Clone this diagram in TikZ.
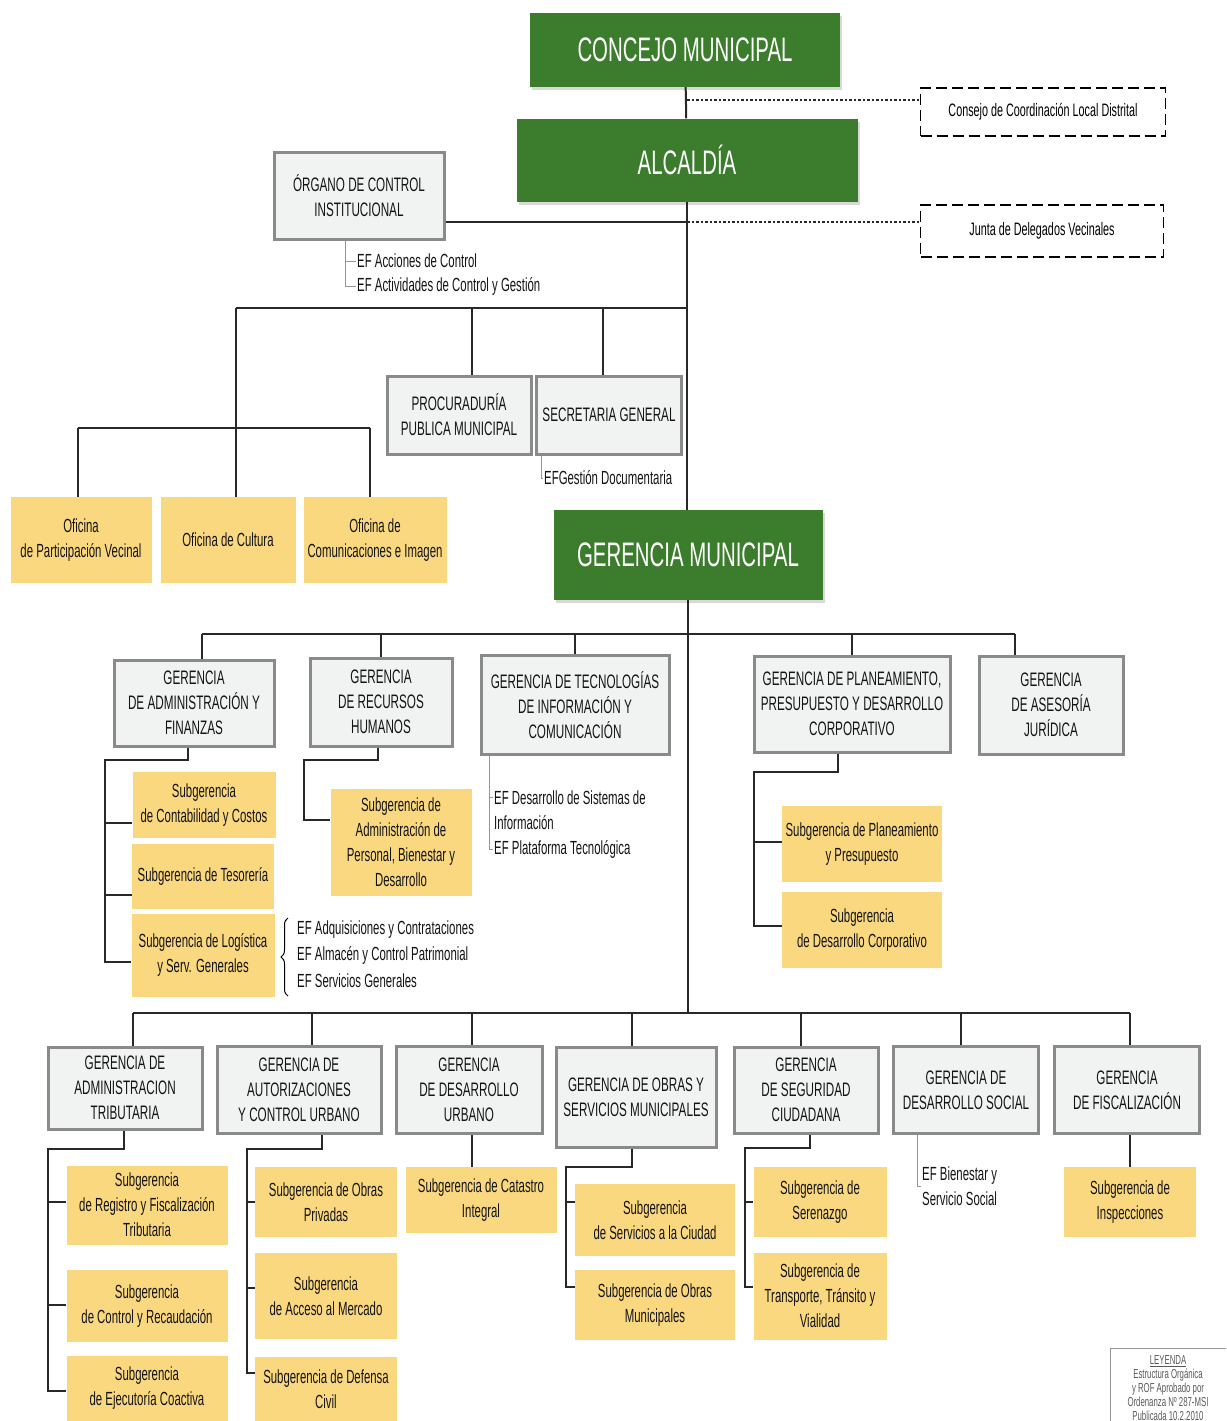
\documentclass[tikz,border=0pt]{standalone}
\usepackage{fontspec}
\setmainfont[FakeStretch=0.6]{Liberation Sans}
\usepackage{tikz}
\usetikzlibrary{positioning}
\usetikzlibrary{shadows}
\usetikzlibrary{decorations.pathreplacing}

\definecolor{verde}{RGB}{60,125,45}
\definecolor{grisfondo}{RGB}{241,242,242}
\definecolor{grisborde}{RGB}{138,138,138}
\definecolor{amarillo}{RGB}{250,216,128}
\definecolor{linea}{RGB}{40,40,40}
\definecolor{lineaef}{RGB}{150,150,150}

\tikzset{
  sz/.style 2 args={minimum width=#1pt,minimum height=#2pt},
  topbox/.style={fill=verde,text=white,inner sep=2pt,align=center,
    font=\fontsize{34}{38}\selectfont,
    drop shadow={opacity=0.3,shadow xshift=2pt,shadow yshift=-3pt}},
  gerbox/.style={fill=grisfondo,draw=grisborde,line width=3pt,inner sep=2pt,align=center,
    text=black!92,font=\fontsize{19.5}{25}\selectfont,
    drop shadow={opacity=0.2,shadow xshift=1.5pt,shadow yshift=-1.5pt}},
  subbox/.style={fill=amarillo,inner sep=2pt,align=center,text=black!92,
    font=\fontsize{19}{25}\selectfont},
  extbox/.style={draw,line width=1.8pt,dash pattern=on 11pt off 5pt,inner sep=2pt,
    font=\fontsize{18}{24}\selectfont},
  eftext/.style={anchor=west,inner sep=1pt,align=left,text=black!92,
    font=\fontsize{19}{25}\selectfont},
  link/.style={draw=linea,line width=2pt},
  eflink/.style={draw=lineaef,line width=1pt},
  dotlink/.style={draw=linea,line width=2.2pt,dash pattern=on 2.5pt off 2pt}
}

\begin{document}
\begin{tikzpicture}[x=1pt,y=-1pt]
  \useasboundingbox (0,0) rectangle (1226,1421);

  % alta direccion
  \node [topbox,sz={310}{74}]  (concejo)  at (685,50)  {CONCEJO MUNICIPAL};
  \node [topbox,sz={341}{83}]  (alcaldia) at (687,160) {ALCALDÍA};
  \node [extbox,sz={245}{48}]  (consejo)  at (1043,112) {Consejo de Coordinación Local Distrital};
  \node [extbox,sz={243}{52}]  (junta)    at (1042,231) {Junta de Delegados Vecinales};
  \node [gerbox,sz={170}{87}]  (oci)      at (359,196) {ÓRGANO DE CONTROL\\INSTITUCIONAL};
  \node [eftext] (efacc) at (356,261) {EF Acciones de Control};
  \node [eftext] (efact) at (356,286) {EF Actividades de Control y Gestión};
  \node [gerbox,sz={144}{78}]  (procu)    at (459,415) {PROCURADURÍA\\PUBLICA MUNICIPAL};
  \node [gerbox,sz={145}{78}]  (secre)    at (609,415) {SECRETARIA GENERAL};
  \node [eftext] (efgest) at (543,478) {EFGestión Documentaria};
  \node [subbox,sz={141}{86}]  (partic)   at (81,540)  {Oficina\\de Participación Vecinal};
  \node [subbox,sz={135}{86}]  (cultura)  at (228,540) {Oficina de Cultura};
  \node [subbox,sz={143}{86}]  (comunic)  at (375,540) {Oficina de\\Comunicaciones e Imagen};
  \node [topbox,sz={269}{90}]  (germun)   at (688,555) {GERENCIA MUNICIPAL};

  \draw [link] (concejo) -- (alcaldia);
  \draw [link] (alcaldia.south) -- (alcaldia.south |- germun.north);
  \draw [dotlink] (687,100) -- (consejo.west |- 0,100);
  \draw [dotlink] (687,222) -- (junta.west |- 0,222);
  \draw [link] (oci.east |- 0,222) -- (687,222);
  \draw [eflink] (oci.south -| 345,0) |- (efact.west);
  \draw [eflink] (345,261) -- (efacc.west);
  \draw [link] (236,308) -- (687,308);
  \draw [link] (472,308) -- (procu.north -| 472,0);
  \draw [link] (603,308) -- (secre.north -| 603,0);
  \draw [eflink] (secre.south -| 541,0) |- (efgest.west);
  \draw [link] (236,308) -- (cultura.north -| 236,0);
  \draw [link] (78,428) -- (370,428);
  \draw [link] (78,428) -- (partic.north -| 78,0);
  \draw [link] (370,428) -- (comunic.north -| 370,0);

  % gerencias de apoyo y asesoria
  \node [gerbox,sz={160}{86}] (gaf)  at (194,703)  {GERENCIA\\DE ADMINISTRACIÓN  Y\\FINANZAS};
  \node [gerbox,sz={142}{88}] (grh)  at (381,702)  {GERENCIA\\DE RECURSOS\\HUMANOS};
  \node [gerbox,sz={188}{99}] (gtic) at (575,705)  {GERENCIA DE TECNOLOGÍAS\\DE INFORMACIÓN Y\\COMUNICACIÓN};
  \node [gerbox,sz={196}{96}] (gpp)  at (852,704)  {GERENCIA DE PLANEAMIENTO,\\PRESUPUESTO Y DESARROLLO\\CORPORATIVO};
  \node [gerbox,sz={144}{98}] (gaj)  at (1051,705) {GERENCIA\\DE  ASESORÍA\\JURÍDICA};

  \node [subbox,sz={143}{66}]  (conta) at (204,805) {Subgerencia\\de Contabilidad y Costos};
  \node [subbox,sz={142}{65}]  (teso)  at (203,876) {Subgerencia  de Tesorería};
  \node [subbox,sz={143}{83}]  (logis) at (203,955) {Subgerencia de Logística\\y Serv. Generales};
  \node [eftext] (efadq)  at (296,930) {EF Adquisiciones y Contrataciones};
  \node [eftext] (efalm)  at (296,955) {EF Almacén y Control Patrimonial};
  \node [eftext] (efserv) at (296,981) {EF Servicios Generales};
  \node [subbox,sz={141}{107}] (adper) at (401,842) {Subgerencia de\\Administración de\\Personal, Bienestar y\\Desarrollo};
  \node [eftext] (efsis)  at (493,810) {EF Desarrollo de Sistemas de\\Información};
  \node [eftext] (efplat) at (493,849) {EF Plataforma Tecnológica};
  \node [subbox,sz={160}{76}]  (sgpp)  at (862,844) {Subgerencia de Planeamiento\\y  Presupuesto};
  \node [subbox,sz={160}{76}]  (sgdc)  at (862,930) {Subgerencia\\de Desarrollo Corporativo};

  \draw [link] (germun.south) -- (germun.south |- 0,1013);
  \draw [link] (202,634) -- (1015,634);
  \draw [link] (202,634) -- (gaf.north -| 202,0);
  \draw [link] (381,634) -- (grh.north -| 381,0);
  \draw [link] (575,634) -- (gtic.north -| 575,0);
  \draw [link] (852,634) -- (gpp.north -| 852,0);
  \draw [link] (1015,634) -- (gaj.north -| 1015,0);

  \draw [link] (gaf.south -| 188,0) |- (105,760) -- (105,962) -- (logis.west |- 0,962);
  \draw [link] (105,823) -- (conta.west |- 0,823);
  \draw [link] (105,895) -- (teso.west |- 0,895);
  \draw [decorate,decoration={brace,amplitude=7pt},line width=1pt] (288,996) -- (288,918);
  \draw [link] (grh.south -| 378,0) |- (304,760) |- (adper.west |- 0,820);
  \draw [eflink] (gtic.south -| 489,0) |- (efplat.west);
  \draw [eflink] (489,797) -- (efsis.west |- 0,797);
  \draw [link] (gpp.south -| 838,0) |- (754,772) -- (754,926) -- (sgdc.west |- 0,926);
  \draw [link] (754,842) -- (sgpp.west |- 0,842);

  % gerencias de linea
  \node [gerbox,sz={154}{82}]  (gat)  at (125,1088) {GERENCIA DE\\ADMINISTRACION\\TRIBUTARIA};
  \node [gerbox,sz={164}{87}]  (gauc) at (299,1090) {GERENCIA DE\\AUTORIZACIONES\\Y CONTROL URBANO};
  \node [gerbox,sz={146}{87}]  (gdu)  at (469,1090) {GERENCIA\\DE DESARROLLO\\URBANO};
  \node [gerbox,sz={160}{100}] (gosm) at (636,1097) {GERENCIA DE OBRAS Y\\SERVICIOS MUNICIPALES};
  \node [gerbox,sz={144}{86}]  (gsc)  at (806,1090) {GERENCIA\\DE SEGURIDAD\\CIUDADANA};
  \node [gerbox,sz={145}{87}]  (gds)  at (966,1090) {GERENCIA DE\\DESARROLLO SOCIAL};
  \node [gerbox,sz={145}{87}]  (gf)   at (1127,1090) {GERENCIA\\DE FISCALIZACIÓN};

  \node [subbox,sz={161}{79}] (sgrf)  at (147,1205)   {Subgerencia\\de Registro y Fiscalización\\Tributaria};
  \node [subbox,sz={161}{72}] (sgcr)  at (147,1306)   {Subgerencia\\de Control y  Recaudación};
  \node [subbox,sz={161}{65}] (sgec)  at (147,1388.5) {Subgerencia\\de Ejecutoría Coactiva};
  \node [subbox,sz={142}{70}] (sgop)  at (326,1202)   {Subgerencia de Obras\\Privadas};
  \node [subbox,sz={142}{86}] (sgam)  at (326,1296)   {Subgerencia\\de Acceso al Mercado};
  \node [subbox,sz={142}{64}] (sgdcv) at (326,1389)   {Subgerencia de Defensa\\Civil};
  \node [subbox,sz={151}{66}] (sgcat) at (481,1200)   {Subgerencia de Catastro\\Integral};
  \node [subbox,sz={160}{72}] (sgsc)  at (655,1220)   {Subgerencia\\de Servicios a la Ciudad};
  \node [subbox,sz={160}{70}] (sgom)  at (655,1305)   {Subgerencia de Obras\\Municipales};
  \node [subbox,sz={133}{70}] (sgser) at (820,1202)   {Subgerencia de\\Serenazgo};
  \node [subbox,sz={133}{87}] (sgtt)  at (820,1296)   {Subgerencia de\\Transporte, Tránsito y\\Vialidad};
  \node [eftext] (efbien) at (921,1186) {EF Bienestar y\\Servicio Social};
  \node [subbox,sz={132}{70}] (sginsp) at (1130,1202) {Subgerencia de\\Inspecciones};

  \draw [link] (133,1013) -- (1130,1013);
  \draw [link] (133,1013) -- (gat.north -| 133,0);
  \draw [link] (312,1013) -- (gauc.north -| 312,0);
  \draw [link] (472,1013) -- (gdu.north -| 472,0);
  \draw [link] (632,1013) -- (gosm.north -| 632,0);
  \draw [link] (801,1013) -- (gsc.north -| 801,0);
  \draw [link] (961,1013) -- (gds.north -| 961,0);
  \draw [link] (1130,1013) -- (gf.north -| 1130,0);

  \draw [link] (gat.south -| 124,0) |- (48,1149) -- (48,1391) -- (sgec.west |- 0,1391);
  \draw [link] (48,1202) -- (sgrf.west |- 0,1202);
  \draw [link] (48,1305) -- (sgcr.west |- 0,1305);
  \draw [link] (gauc.south -| 322,0) |- (247,1149) -- (247,1373) -- (sgdcv.west |- 0,1373);
  \draw [link] (247,1202) -- (sgop.west |- 0,1202);
  \draw [link] (247,1288) -- (sgam.west |- 0,1288);
  \draw [link] (gdu.south -| 472,0) -- (sgcat.north -| 472,0);
  \draw [link] (gosm.south -| 632,0) |- (566,1167) -- (566,1287) -- (sgom.west |- 0,1287);
  \draw [link] (566,1202) -- (sgsc.west |- 0,1202);
  \draw [link] (gsc.south -| 810,0) |- (745,1148) -- (745,1287) -- (sgtt.west |- 0,1287);
  \draw [link] (745,1202) -- (sgser.west |- 0,1202);
  \draw [eflink] (gds.south -| 917,0) |- (efbien.west);
  \draw [link] (gf.south -| sginsp.north) -- (sginsp.north);

  % leyenda
  \draw [draw=lineaef,line width=1pt] (1110,1421) |- (1226,1348);
  \node [align=center,text=black!65,font=\fontsize{13}{13.8}\selectfont] (leyenda) at (1168,1388)
    {\underline{LEYENDA}\\Estructura Orgánica\\y ROF Aprobado por\\Ordenanza Nº 287-MSI\\Publicada 10.2.2010};
\end{tikzpicture}
\end{document}
